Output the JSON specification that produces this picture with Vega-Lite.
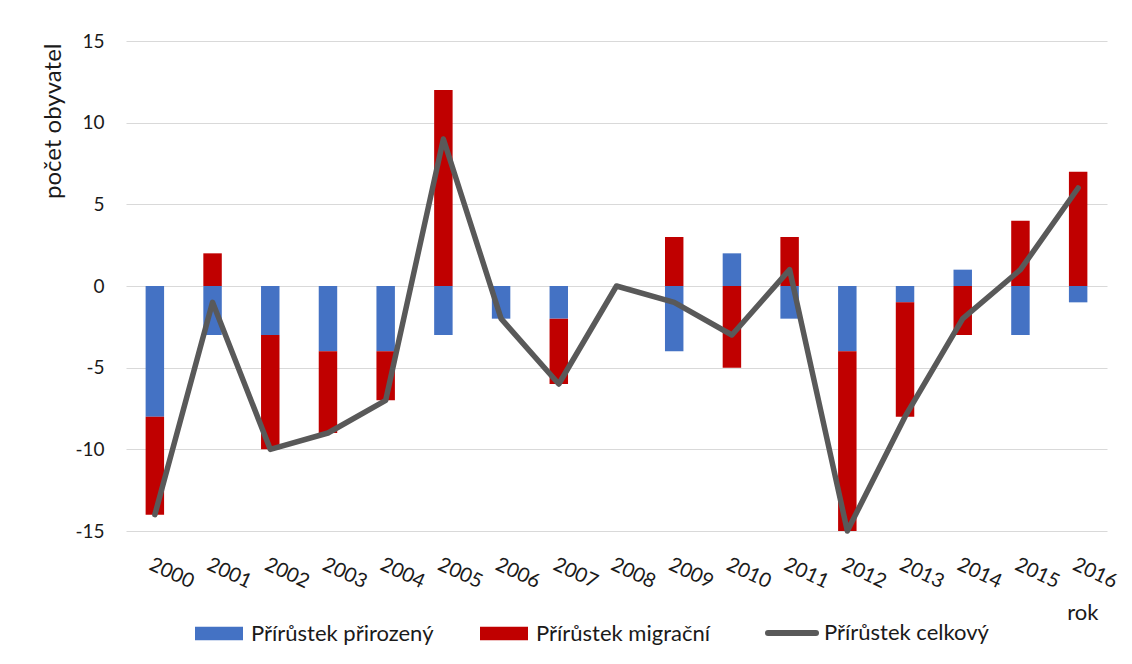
{
  "$schema": "https://vega.github.io/schema/vega-lite/v6.json",
  "width": 981,
  "height": 490,
  "autosize": {"type": "none"},
  "padding": {"left": 126, "top": 41, "right": 25, "bottom": 133},
  "background": "white",
  "config": {
    "font": "Lato",
    "view": {"stroke": null},
    "axis": {"labelFont": "Lato", "titleFont": "Lato", "labelColor": "#1a1a1a", "titleColor": "#1a1a1a", "titleFontWeight": "normal"},
    "legend": {"labelFont": "Lato", "labelColor": "#1a1a1a"}
  },
  "data": {
    "values": [
      {"rok": "2000", "serie": "Přírůstek přirozený", "hodnota": -8},
      {"rok": "2000", "serie": "Přírůstek migrační", "hodnota": -6},
      {"rok": "2000", "serie": "Přírůstek celkový", "hodnota": -14},
      {"rok": "2001", "serie": "Přírůstek přirozený", "hodnota": -3},
      {"rok": "2001", "serie": "Přírůstek migrační", "hodnota": 2},
      {"rok": "2001", "serie": "Přírůstek celkový", "hodnota": -1},
      {"rok": "2002", "serie": "Přírůstek přirozený", "hodnota": -3},
      {"rok": "2002", "serie": "Přírůstek migrační", "hodnota": -7},
      {"rok": "2002", "serie": "Přírůstek celkový", "hodnota": -10},
      {"rok": "2003", "serie": "Přírůstek přirozený", "hodnota": -4},
      {"rok": "2003", "serie": "Přírůstek migrační", "hodnota": -5},
      {"rok": "2003", "serie": "Přírůstek celkový", "hodnota": -9},
      {"rok": "2004", "serie": "Přírůstek přirozený", "hodnota": -4},
      {"rok": "2004", "serie": "Přírůstek migrační", "hodnota": -3},
      {"rok": "2004", "serie": "Přírůstek celkový", "hodnota": -7},
      {"rok": "2005", "serie": "Přírůstek přirozený", "hodnota": -3},
      {"rok": "2005", "serie": "Přírůstek migrační", "hodnota": 12},
      {"rok": "2005", "serie": "Přírůstek celkový", "hodnota": 9},
      {"rok": "2006", "serie": "Přírůstek přirozený", "hodnota": -2},
      {"rok": "2006", "serie": "Přírůstek migrační", "hodnota": 0},
      {"rok": "2006", "serie": "Přírůstek celkový", "hodnota": -2},
      {"rok": "2007", "serie": "Přírůstek přirozený", "hodnota": -2},
      {"rok": "2007", "serie": "Přírůstek migrační", "hodnota": -4},
      {"rok": "2007", "serie": "Přírůstek celkový", "hodnota": -6},
      {"rok": "2008", "serie": "Přírůstek přirozený", "hodnota": 0},
      {"rok": "2008", "serie": "Přírůstek migrační", "hodnota": 0},
      {"rok": "2008", "serie": "Přírůstek celkový", "hodnota": 0},
      {"rok": "2009", "serie": "Přírůstek přirozený", "hodnota": -4},
      {"rok": "2009", "serie": "Přírůstek migrační", "hodnota": 3},
      {"rok": "2009", "serie": "Přírůstek celkový", "hodnota": -1},
      {"rok": "2010", "serie": "Přírůstek přirozený", "hodnota": 2},
      {"rok": "2010", "serie": "Přírůstek migrační", "hodnota": -5},
      {"rok": "2010", "serie": "Přírůstek celkový", "hodnota": -3},
      {"rok": "2011", "serie": "Přírůstek přirozený", "hodnota": -2},
      {"rok": "2011", "serie": "Přírůstek migrační", "hodnota": 3},
      {"rok": "2011", "serie": "Přírůstek celkový", "hodnota": 1},
      {"rok": "2012", "serie": "Přírůstek přirozený", "hodnota": -4},
      {"rok": "2012", "serie": "Přírůstek migrační", "hodnota": -11},
      {"rok": "2012", "serie": "Přírůstek celkový", "hodnota": -15},
      {"rok": "2013", "serie": "Přírůstek přirozený", "hodnota": -1},
      {"rok": "2013", "serie": "Přírůstek migrační", "hodnota": -7},
      {"rok": "2013", "serie": "Přírůstek celkový", "hodnota": -8},
      {"rok": "2014", "serie": "Přírůstek přirozený", "hodnota": 1},
      {"rok": "2014", "serie": "Přírůstek migrační", "hodnota": -3},
      {"rok": "2014", "serie": "Přírůstek celkový", "hodnota": -2},
      {"rok": "2015", "serie": "Přírůstek přirozený", "hodnota": -3},
      {"rok": "2015", "serie": "Přírůstek migrační", "hodnota": 4},
      {"rok": "2015", "serie": "Přírůstek celkový", "hodnota": 1},
      {"rok": "2016", "serie": "Přírůstek přirozený", "hodnota": -1},
      {"rok": "2016", "serie": "Přírůstek migrační", "hodnota": 7},
      {"rok": "2016", "serie": "Přírůstek celkový", "hodnota": 6}
    ]
  },
  "encoding": {
    "x": {
      "field": "rok",
      "type": "nominal",
      "scale": {"paddingInner": 0.68, "paddingOuter": 0.34},
      "axis": {
        "title": "rok",
        "titleFontSize": 22,
        "titleAnchor": "end",
        "titleAlign": "right",
        "titleBaseline": "middle",
        "titleX": 972,
        "titleY": 81,
        "labelAngle": 25,
        "labelAlign": "left",
        "labelBaseline": "top",
        "labelFontSize": 20,
        "labelPadding": 23,
        "ticks": false,
        "domain": false,
        "grid": false
      }
    }
  },
  "layer": [
    {
      "transform": [{"filter": "datum.serie !== 'Přírůstek celkový'"}],
      "mark": {"type": "bar"},
      "encoding": {
        "y": {
          "field": "hodnota",
          "type": "quantitative",
          "stack": "zero",
          "scale": {"domain": [-15, 15], "nice": false, "zero": false},
          "axis": {
            "title": "počet obyvatel",
            "titleFontSize": 24,
            "titleAngle": -90,
            "titleAlign": "right",
            "titleBaseline": "middle",
            "titleX": -73,
            "titleY": 2,
            "values": [-15, -10, -5, 0, 5, 10, 15],
            "labelExpr": "datum.value < 0 ? '-' + abs(datum.value) : '' + datum.value",
            "labelFontSize": 19,
            "labelPadding": 22,
            "ticks": false,
            "domain": false,
            "grid": true,
            "gridColor": "#D9D9D9",
            "gridWidth": 1.2
          }
        },
        "color": {
          "field": "serie",
          "type": "nominal",
          "scale": {
            "domain": ["Přírůstek přirozený", "Přírůstek migrační", "Přírůstek celkový"],
            "range": ["#4472C4", "#C00000", "#595959"]
          },
          "legend": {
            "title": null,
            "orient": "none",
            "legendX": 82,
            "legendY": 581,
            "direction": "horizontal",
            "columns": 3,
            "columnPadding": 46,
            "labelFontSize": 22,
            "labelOffset": 21,
            "labelLimit": 600,
            "symbolSize": 2304,
            "symbolType": "square",
            "encode": {
              "symbols": {
                "update": {
                  "shape": {"signal": "datum.value === 'Přírůstek celkový' ? 'M-1,0H1' : 'M-1,-0.28H1V0.28H-1Z'"},
                  "fill": {"signal": "datum.value === 'Přírůstek celkový' ? 'transparent' : (datum.value === 'Přírůstek přirozený' ? '#4472C4' : '#C00000')"},
                  "stroke": {"signal": "datum.value === 'Přírůstek celkový' ? '#595959' : 'transparent'"},
                  "strokeWidth": {"signal": "datum.value === 'Přírůstek celkový' ? 6 : 0"},
                  "strokeCap": {"value": "round"},
                  "opacity": {"value": 1}
                }
              }
            }
          }
        },
        "order": {"field": "serie", "sort": "descending"}
      }
    },
    {
      "mark": {"type": "rule", "color": "#000000", "strokeWidth": 1.3},
      "encoding": {"y": {"datum": 0}}
    },
    {
      "transform": [{"filter": "datum.serie === 'Přírůstek celkový'"}],
      "mark": {"type": "line", "strokeWidth": 5.5, "strokeCap": "round", "strokeJoin": "round"},
      "encoding": {
        "y": {"field": "hodnota", "type": "quantitative"},
        "color": {"field": "serie", "type": "nominal"}
      }
    }
  ]
}
